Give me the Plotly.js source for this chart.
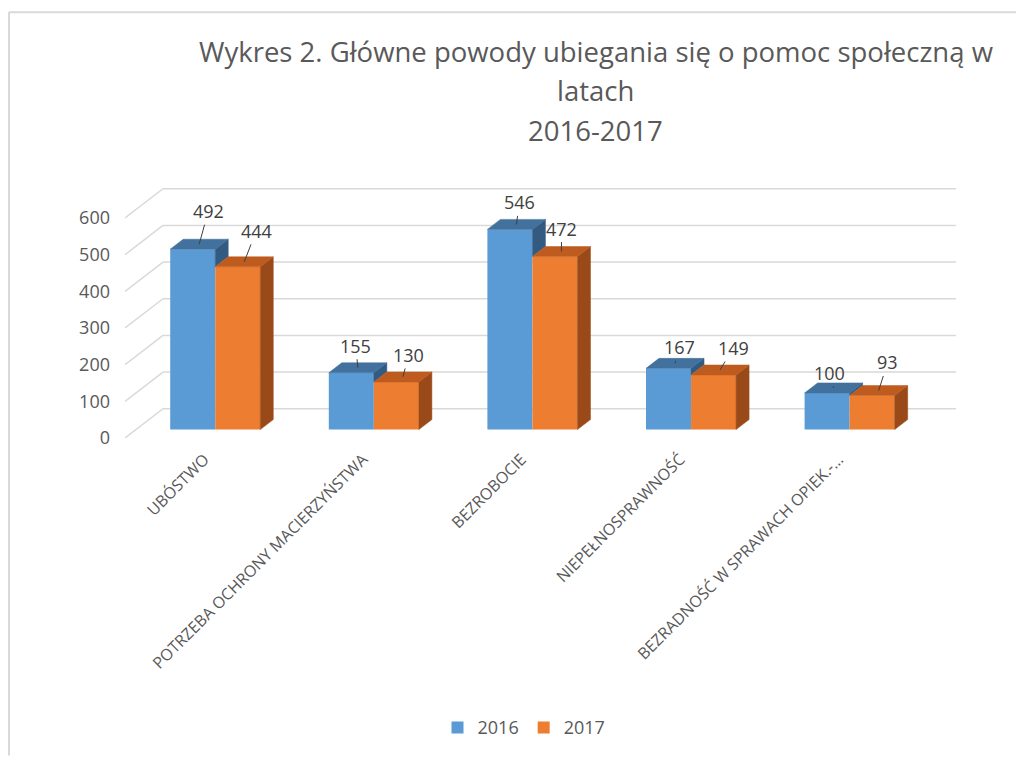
<!DOCTYPE html>
<html>
<head>
<meta charset="utf-8">
<script src="https://cdn.plot.ly/plotly-3.0.1.min.js"></script>
<style>
  html, body { margin: 0; padding: 0; background: #ffffff; }
  #chart { width: 1016px; height: 758px; }
</style>
</head>
<body>
<div id="chart"></div>
<script>
// ---- data ----
const categories = [
  'UBÓSTWO',
  'POTRZEBA OCHRONY MACIERZYŃSTWA',
  'BEZROBOCIE',
  'NIEPEŁNOSPRAWNOŚĆ',
  'BEZRADNOŚĆ W SPRAWACH OPIEK.-…'
];
const values2016 = [492, 155, 546, 167, 100];
const values2017 = [444, 130, 472, 149, 93];
const seriesNames = ['2016', '2017'];
const yTicks = [0, 100, 200, 300, 400, 500, 600];
const titleLines = ['Wykres 2. Główne powody ubiegania się o pomoc społeczną w', 'latach', '2016-2017'];

// ---- styling / geometry (pseudo-3D oblique projection) ----
const DX = 0.2396;   // floor depth along x (category units)
const DY = 79.7;     // floor depth along y (value units)
const F0 = 0.288;    // depth fraction of the bars' front face
const F1 = 0.63;     // depth fraction of the bars' back face
const BW = 0.284;    // width of one bar (category units)
const FONT = 'Open Sans, sans-serif';
const colors = {
  front: ['#5B9BD5', '#ED7D31'],
  top:   ['#41719C', '#BE5B1F'],
  side:  ['#335B82', '#9A4A18']
};
// label shift in pixels relative to the top face centre [dx, dy]
const labelShift = [
  [[9, -33], [-2, -22], [3, -22], [4, -16], [-4, -15]],
  [[12, -31], [6, -22], [0, -23], [13, -22], [9, -28]]
];

const series = [values2016, values2017];
const idx = categories.map((_, i) => i);
const base = F0 * DY;
const ddx = (F1 - F0) * DX, ddy = (F1 - F0) * DY;

function barX0(i, s) { return i + F0 * DX - BW + s * BW; }

const traces = [];

// front faces as bars
series.forEach((vals, s) => {
  traces.push({
    type: 'bar', name: seriesNames[s], x: idx, y: vals,
    base: base, width: BW, offset: F0 * DX - BW + s * BW,
    marker: { color: colors.front[s], line: { width: 0 } },
    hoverinfo: 'skip'
  });
});

// top and side faces
series.forEach((vals, s) => {
  const tx = [], ty = [], sx = [], sy = [];
  vals.forEach((v, i) => {
    const x0 = barX0(i, s), x1 = x0 + BW, yt = base + v;
    tx.push(x0, x1, x1 + ddx, x0 + ddx, x0, null);
    ty.push(yt, yt, yt + ddy, yt + ddy, yt, null);
    // visible side: for the left bar only the part above the right bar
    let yLow = base;
    if (s === 0) yLow = base + series[1][i];
    if (yt > yLow) {
      sx.push(x1, x1 + ddx, x1 + ddx, x1, x1, null);
      sy.push(yLow, yLow + ddy, yt + ddy, yt, yLow, null);
    }
  });
  traces.push({
    type: 'scatter', mode: 'lines', x: sx, y: sy, fill: 'toself',
    fillcolor: colors.side[s], line: { color: colors.side[s], width: 0.5 },
    hoverinfo: 'skip', showlegend: false
  });
  traces.push({
    type: 'scatter', mode: 'lines', x: tx, y: ty, fill: 'toself',
    fillcolor: colors.top[s], line: { color: colors.top[s], width: 0.5 },
    hoverinfo: 'skip', showlegend: false
  });
});

// gridlines (below the traces): back wall + left wall diagonals
const shapes = [];
yTicks.forEach(v => {
  shapes.push({ type: 'line', layer: 'below', xref: 'x', yref: 'y',
    x0: -0.5 + DX, x1: categories.length - 0.5 + DX, y0: v + DY, y1: v + DY,
    line: { color: '#D9D9D9', width: 1.5 } });
  shapes.push({ type: 'line', layer: 'below', xref: 'x', yref: 'y',
    x0: -0.5, x1: -0.5 + DX, y0: v, y1: v + DY,
    line: { color: '#D9D9D9', width: 1.5 } });
});

// data labels with leader lines
const annotations = [];
series.forEach((vals, s) => {
  vals.forEach((v, i) => {
    annotations.push({
      x: barX0(i, s) + BW / 2 + ddx / 2,
      y: base + v + ddy / 2,
      xref: 'x', yref: 'y',
      text: String(v),
      showarrow: true, arrowhead: 0, arrowwidth: 1, arrowcolor: '#404040',
      standoff: 0,
      ax: labelShift[s][i][0], ay: labelShift[s][i][1],
      font: { family: FONT, size: 18, color: '#404040' }
    });
  });
});

// title lines 2 and 3
const L = 125, R = 60, T = 185, B = 318, W = 1016, H = 758;
const pw = W - L - R, ph = H - T - B;
[[titleLines[1], 90], [titleLines[2], 130]].forEach(([txt, py]) => {
  annotations.push({
    xref: 'paper', yref: 'paper',
    x: (595 - L) / pw, y: (H - B - py) / ph,
    xanchor: 'center', yanchor: 'middle',
    text: txt, showarrow: false,
    font: { family: FONT, size: 27.5, color: '#595959' }
  });
});

// chart frame
shapes.push(
  { type: 'line', xref: 'paper', yref: 'paper', x0: (9 - L) / pw, x1: (1016 - L) / pw,
    y0: (H - B - 11) / ph, y1: (H - B - 11) / ph, line: { color: '#D9D9D9', width: 2 } },
  { type: 'line', xref: 'paper', yref: 'paper', x0: (9 - L) / pw, x1: (9 - L) / pw,
    y0: (H - B - 11) / ph, y1: (H - B - 760) / ph, line: { color: '#D9D9D9', width: 2 } }
);

const layout = {
  width: W, height: H,
  margin: { l: L, r: R, t: T, b: B },
  paper_bgcolor: '#ffffff', plot_bgcolor: '#ffffff',
  barmode: 'overlay',
  title: {
    text: titleLines[0],
    x: 596 / W, xanchor: 'center', xref: 'container',
    y: 1 - 52 / H, yanchor: 'middle', yref: 'container',
    font: { family: FONT, size: 27.5, color: '#595959' }
  },
  xaxis: {
    range: [-0.5, categories.length - 0.5 + DX],
    tickmode: 'array', tickvals: idx, ticktext: categories,
    tickangle: -45,
    tickfont: { family: FONT, size: 16, color: '#595959' },
    showgrid: false, zeroline: false, showline: false,
    ticks: '', ticklabelstandoff: 8, fixedrange: true
  },
  yaxis: {
    range: [0, 690],
    tickmode: 'array', tickvals: yTicks,
    tickfont: { family: FONT, size: 18, color: '#595959' },
    showgrid: false, zeroline: false, showline: false,
    ticks: '', ticklabelstandoff: 14, fixedrange: true
  },
  legend: {
    orientation: 'h', x: (524 - L) / pw, xanchor: 'center',
    y: (H - B - 732) / ph, yanchor: 'middle',
    font: { family: FONT, size: 18, color: '#595959' },
    itemclick: false, itemdoubleclick: false
  },
  shapes: shapes,
  annotations: annotations,
  showlegend: true
};

Plotly.newPlot('chart', traces, layout, { staticPlot: true, displayModeBar: false });
</script>
</body>
</html>
